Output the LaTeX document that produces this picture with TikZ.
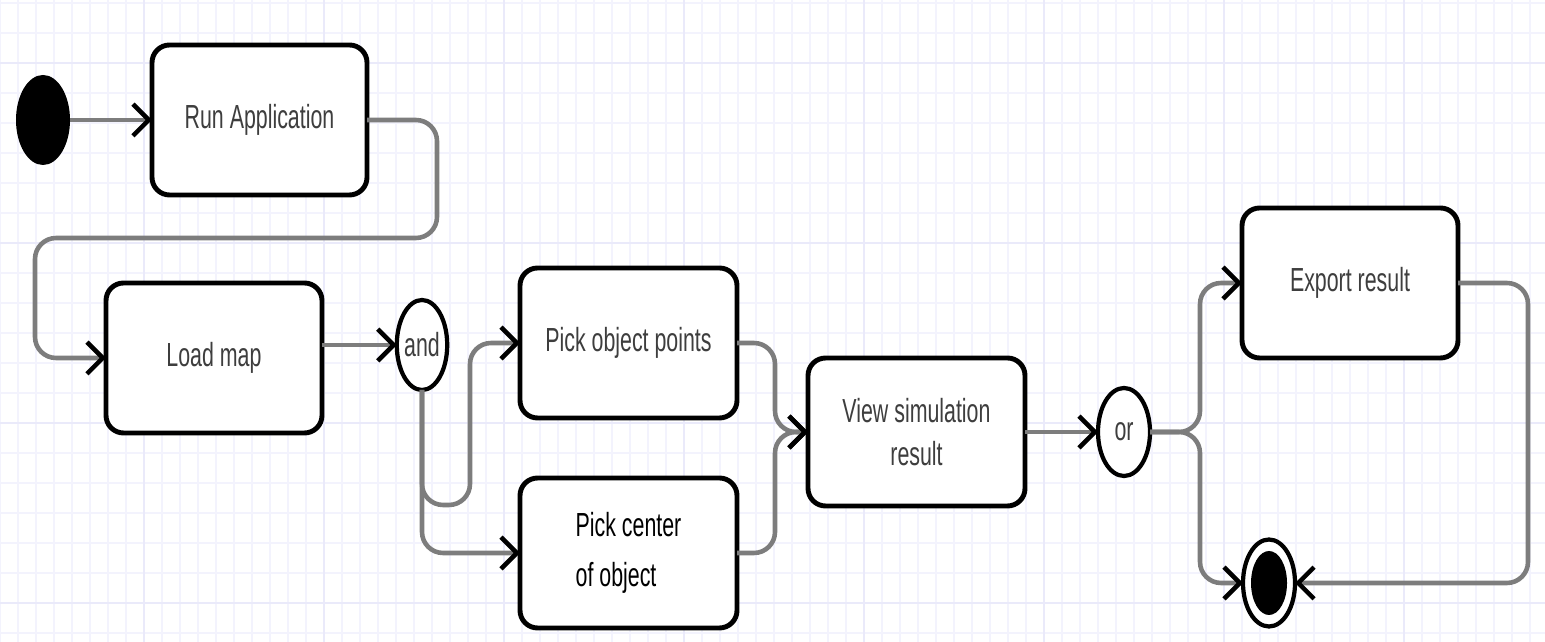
\documentclass[tikz,border=0pt]{standalone}
\usepackage{fontspec}
\setmainfont{Liberation Sans}[FakeStretch=0.64]
\usepackage{tikz}
\usetikzlibrary{positioning,calc
  ,shapes.geometric
  ,arrows.meta}
\definecolor{gridminor}{RGB}{243,243,253}
\definecolor{gridmajor}{RGB}{234,234,250}
\definecolor{linegray}{RGB}{125,125,125}
\definecolor{textgray}{RGB}{62,62,62}
\tikzset{
  flowpic/.style={
    node distance=20pt
    ,inner sep=0pt
    ,outer sep=0pt
  }
  ,label/.style={font={\fontsize{9.5pt}{14pt}\selectfont\color{textgray}}}
  ,action/.style={rectangle
    ,rounded corners=5pt
    ,draw=black
    ,line width=1.4pt
    ,fill=white
    ,minimum width=2.16cm
    ,minimum height=1.5cm
    ,align=center
    ,label
  }
  ,junction/.style={ellipse,draw=black,line width=1.2pt,fill=white
    ,minimum width=.5cm,minimum height=.9cm,label}
  ,startdot/.style={ellipse,fill=black,minimum width=.54cm,minimum height=.9cm}
  ,enddot/.style={ellipse,draw=black,line width=1.2pt,fill=white
    ,minimum width=.52cm,minimum height=.87cm
    ,path picture={\fill[black] (path picture bounding box.center) ellipse (.18cm and .32cm);}
  }
  ,flow/.style={draw=linegray
    ,line width=1.3pt
    ,rounded corners=6pt
    ,-{Straight Barb[length=4.5pt,width=9pt,line width=1.3pt,black]}
  }
}

\begin{document}
\begin{tikzpicture}[flowpic]
  % sheet and grid
  \useasboundingbox (0,0) rectangle (15.45,-6.42);
  \fill[white] (0,0) rectangle (15.45,-6.42);
  \foreach \gx in {0,0.18,...,15.45}
    \draw[gridminor,line width=.5pt] (\gx,0) -- (\gx,-6.42);
  \foreach \gy in {0.03,0.33,...,6.42}
    \draw[gridminor,line width=.5pt] (0,-\gy) -- (15.45,-\gy);
  \foreach \gx in {1.44,3.24,...,15.45}
    \draw[gridmajor,line width=.8pt] (\gx,0) -- (\gx,-6.42);
  \foreach \gy in {0.63,2.43,...,6.42}
    \draw[gridmajor,line width=.8pt] (0,-\gy) -- (15.45,-\gy);

  % activities
  \node[startdot] (start) at (0.43,-1.20) {};
  \node[action,minimum width=2.15cm] (runapp) at (2.595,-1.20) {Run Application};
  \node[action] (loadmap) at (2.14,-3.58) {Load map};
  \node[junction] (andj) at (4.22,-3.45) {and};
  \node[action,minimum width=2.17cm] (pickobj) at (6.285,-3.43) {Pick object points};
  \node[action,minimum width=2.17cm,below=.6cm of pickobj,align=left
    ,font={\fontsize{9.5pt}{14.4pt}\selectfont\color{black}}] (pickctr)
    {Pick center\\of object};
  \node[action,minimum width=2.17cm,minimum height=1.48cm
    ,font={\fontsize{9.5pt}{12pt}\selectfont\color{textgray}}] (view) at (9.165,-4.32)
    {View simulation\\result};
  \node[junction,minimum width=.52cm,minimum height=.88cm] (orj) at (11.24,-4.32) {or};
  \node[action] (export) at (13.50,-2.83) {Export result};
  \node[enddot] (endj) at (12.69,-5.83) {};

  % bends
  \coordinate (wrapR) at (4.37,-2.38);
  \coordinate (wrapL) at (0.35,-2.38);
  \coordinate (andloop) at (4.70,-5.05);
  \coordinate (merge) at (7.75,-4.32);
  \coordinate (split) at (12.00,-4.32);
  \coordinate (rightturn) at (15.28,-2.83);

  % flows
  \draw[flow] (start.east) -- (start.east -| runapp.west);
  \draw[flow] (runapp.east) -| (wrapR) -- (wrapL) |- (loadmap.west);
  \draw[flow] (andj.west -| loadmap.east) -- (andj.west);
  \draw[flow] (andj.south) |- (andloop) |- (pickobj.west);
  \draw[flow] (andj.south) |- (pickctr.west);
  \draw[flow] (pickobj.east) -| (merge) -- (view.west);
  \draw[flow] (pickctr.east) -| (merge) -- (view.west);
  \draw[flow] (view.east) -- (orj.west);
  \draw[flow] (orj.east) -- (split) |- (export.west);
  \draw[flow] (orj.east) -- (split) |- (endj.west);
  \draw[flow] (export.east) -- (rightturn) |- (endj.east);
\end{tikzpicture}
\end{document}
